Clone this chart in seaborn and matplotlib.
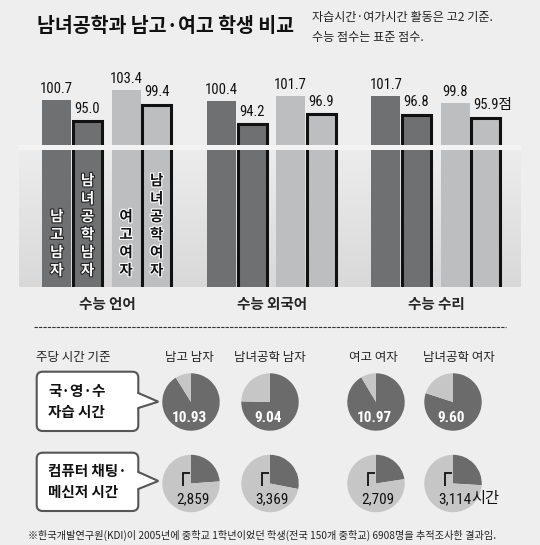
import matplotlib
matplotlib.use("Agg")
import numpy as np
import pandas as pd
import matplotlib.pyplot as plt
import seaborn as sns
from matplotlib import font_manager, patheffects
from matplotlib.colors import to_rgb
from matplotlib.patches import FancyBboxPatch, Polygon

# ---- data ----
subjects = ["수능 언어", "수능 외국어", "수능 수리"]
schools = ["남고 남자", "남녀공학 남자", "여고 여자", "남녀공학 여자"]
score_boys = [100.7, 100.4, 101.7]
score_coed_boys = [95.0, 94.2, 96.8]
score_girls = [103.4, 101.7, 99.8]
score_coed_girls = [99.4, 96.9, 95.9]
study_hours = [10.93, 9.04, 10.97, 9.60]
chat_hours = [2.859, 3.369, 2.709, 3.114]
study_labels = ["10.93", "9.04", "10.97", "9.60"]
chat_labels = ["2,859", "3,369", "2,709", "3,114"]
PIE_TOTAL = 12

# ---- style ----
BG = "#eeeeee"
DARK = "#6f7072"
LIGHT = "#bdbec0"
EDGE = "#111111"
PIE_DARK = "#6b6b6b"
PIE_LIGHT = "#c6c6c6"
PANEL_TOP, PANEL_BOTTOM = "#ececec", "#d8d8d8"

sns.set_style("white")
CJK = "Noto Sans CJK KR"
avail = {f.name for f in font_manager.fontManager.ttflist}
NUM_FONT = next((f for f in ["Roboto Condensed", "Liberation Sans Narrow", "Open Sans Condensed"]
                 if f in avail), "Liberation Sans")
plt.rcParams["font.family"] = [CJK, "DejaVu Sans"]
NUMS = [NUM_FONT, CJK]

W, H = 540, 545
fig = plt.figure(figsize=(W / 100, H / 100), dpi=100, facecolor=BG)

# bar panel geometry (pixels)
AX_L, AX_R, AX_T, AX_B = 19, 521, 60, 287.5
G0, GSTEP = 107.3, 164.5          # first group centre, group spacing
Y_BASE, PPU = 50.7, 3.75          # value at panel bottom, pixels per point
offsets = [-0.307, -0.120, 0.114, 0.300]
BAR_W = 0.176

ax = fig.add_axes([AX_L / W, 1 - AX_B / H, (AX_R - AX_L) / W, (AX_B - AX_T) / H])
ax.patch.set_visible(False)
xlim = ((AX_L - G0) / GSTEP, (AX_R - G0) / GSTEP)
ylim = (Y_BASE, Y_BASE + (AX_B - AX_T) / PPU)
def val(py):
    return Y_BASE + (AX_B - py) / PPU

# gradient backdrop under the broken part: light at the top, darker at the base
top_rgb, bot_rgb = np.array(to_rgb(PANEL_TOP)), np.array(to_rgb(PANEL_BOTTOM))
edges = np.linspace(Y_BASE, val(150), 41)
for k in range(len(edges) - 1):
    f = k / (len(edges) - 2)          # 0 at the base, 1 at the top
    ax.axhspan(edges[k], edges[k + 1], color=bot_rgb + (top_rgb - bot_rgb) * f,
               lw=0, zorder=0)

series = [score_boys, score_coed_boys, score_girls, score_coed_girls]
fills = [DARK, DARK, LIGHT, LIGHT]
outlined = [False, True, False, True]
for i, vals in enumerate(series):
    d = pd.DataFrame({"pos": np.arange(len(subjects)) + offsets[i], "score": vals})
    sns.barplot(data=d, x="pos", y="score", native_scale=True, width=BAR_W,
                color=fills[i], saturation=1, errorbar=None, ax=ax,
                edgecolor=EDGE if outlined[i] else fills[i],
                linewidth=2.2 if outlined[i] else 0, zorder=2)
    for j, v in enumerate(vals):
        last = (i == 3 and j == len(vals) - 1)
        ax.annotate(f"{v:.1f}" + ("점" if last else ""), (j + offsets[i], v),
                    xytext=(5 if last else 0, 4 if outlined[i] else 3),
                    textcoords="offset points", ha="center", va="bottom",
                    fontsize=10.5, family=NUMS, color="#111", zorder=6)

# axis break band
ax.axhspan(val(150), val(145), color="#f3f3f3", zorder=5, lw=0)

# vertical school names inside the first group
for i, name in enumerate(schools):
    dark = fills[i] == DARK
    ax.text(offsets[i], val(278), "\n".join(name.replace(" ", "")), ha="center",
            va="bottom", fontsize=10.5, weight="bold", linespacing=1.15,
            color="white" if dark else "#111", zorder=7,
            path_effects=[patheffects.withStroke(linewidth=1.6,
                                                 foreground="#222" if dark else "white")])

ax.set_xlim(xlim)
ax.set_ylim(ylim)
ax.set_xticks(range(len(subjects)), subjects)
ax.set_yticks([])
ax.set_xlabel("")
ax.set_ylabel("")
ax.tick_params(axis="x", length=0, pad=6, labelsize=10.5)
for t in ax.get_xticklabels():
    t.set_fontweight("bold")
sns.despine(ax=ax, left=True, bottom=True)

# ---- pies ----
pie_x = [191, 270, 376, 453]
pie_y = [402, 483.5]
R = 29
for row, (hours, total) in enumerate([(study_hours, PIE_TOTAL), (chat_hours, PIE_TOTAL)]):
    for k, h in enumerate(hours):
        cx, cy = pie_x[k], pie_y[row]
        pa = fig.add_axes([(cx - R) / W, 1 - (cy + R) / H, 2 * R / W, 2 * R / H])
        pa.pie([h, total - h], colors=[PIE_DARK, PIE_LIGHT], startangle=90,
               counterclock=False, wedgeprops=dict(linewidth=0))
        pa.set_xlim(-1.01, 1.01)
        pa.set_ylim(-1.01, 1.01)
        if row == 1:
            pa.plot([-0.03, -0.27, -0.27], [0.37, 0.37, -0.09], color="#111",
                    lw=1.3, solid_joinstyle="miter", solid_capstyle="butt")

# ---- overlay in pixel coordinates ----
ov = fig.add_axes([0, 0, 1, 1])
ov.set_xlim(0, W)
ov.set_ylim(H, 0)
ov.axis("off")
ov.set_zorder(10)

ov.text(37, 26.5, "남녀공학과 남고·여고 학생 비교", fontsize=14, weight="heavy",
        color="#111", va="center", ha="left")
ov.text(311.6, 18, "자습시간·여가시간 활동은 고2 기준.", fontsize=8.7, color="#222",
        va="center", ha="left")
ov.text(311.6, 37.5, "수능 점수는 표준 점수.", fontsize=8.7, color="#222",
        va="center", ha="left")

ov.plot([34.4, 506], [326.7, 326.7], color="#333", lw=0.8, ls=(0, (3, 1)))

ov.text(36, 357, "주당 시간 기준", fontsize=9, color="#222", va="center", ha="left")
header_x = [189.4, 269.5, 373.6, 458.9]
for hx, name in zip(header_x, schools):
    ov.text(hx, 357, name, fontsize=9, color="#222", va="center", ha="center")

# callout boxes
boxes = [((36.7, 371.7, 138.3, 431), (158.3, 401.7), (393, 408), ["국·영·수", "자습 시간"]),
         ((36.7, 452.7, 138.3, 511), (158.3, 481), (472, 489), ["컴퓨터 채팅·", "메신저 시간"])]
for (x0, y0, x1, y1), tip, base, lines in boxes:
    ov.add_patch(FancyBboxPatch((x0, y0), x1 - x0, y1 - y0,
                                boxstyle="round,pad=0,rounding_size=6",
                                fc="white", ec="#555", lw=1.5, zorder=2))
    ov.add_patch(Polygon([(x1 - 2, base[0]), tip, (x1 - 2, base[1])], closed=True,
                         fc="white", ec="none", zorder=3))
    ov.plot([x1, tip[0], x1], [base[0], tip[1], base[1]], color="#555", lw=1.5,
            zorder=4, solid_joinstyle="miter")
    ymid = (y0 + y1) / 2
    ov.text(48, ymid - 10.5, lines[0], fontsize=10.5, weight="bold", color="#111",
            va="center", ha="left", zorder=5)
    ov.text(48, ymid + 10.5, lines[1], fontsize=10.5, weight="bold", color="#111",
            va="center", ha="left", zorder=5)

# pie numbers
for k, lab in enumerate(study_labels):
    ov.text(pie_x[k] - 2, 418, lab, fontsize=11, weight="bold", family=NUMS,
            color="white", ha="center", va="center")
for k, lab in enumerate(chat_labels):
    t = ov.text(pie_x[k] + 2, 499, lab, fontsize=11, family=NUMS,
                color="#111", ha="center", va="center")
    if k == len(chat_labels) - 1:
        ov.annotate("시간", xy=(1, 0.5), xycoords=t, fontsize=11, family=NUMS,
                    color="#111", ha="left", va="center")

ov.text(28, 535, "※한국개발연구원(KDI)이 2005년에 중학교 1학년이었던 학생(전국 150개 중학교) "
        "6908명을 추적조사한 결과임.", fontsize=7.3, color="#222", va="center", ha="left")

fig.savefig("out.png", dpi=100, facecolor=BG)
